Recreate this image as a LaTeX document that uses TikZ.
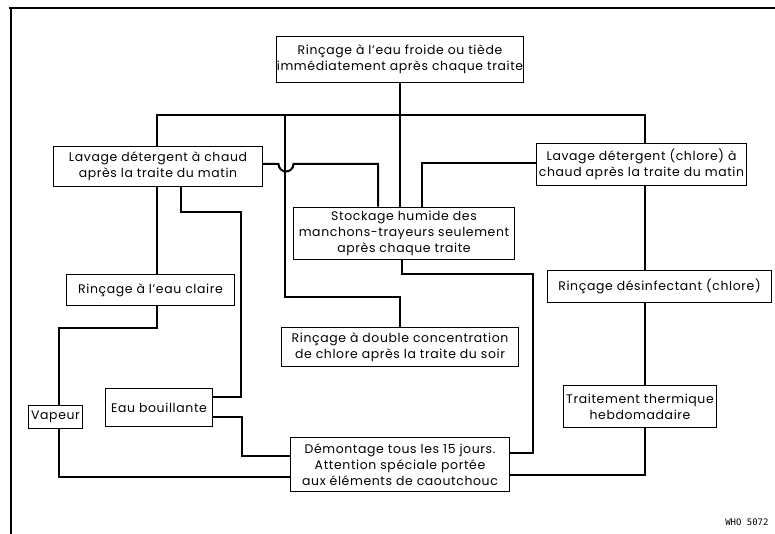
\documentclass[tikz,border=0pt]{standalone}
\usepackage{fontspec}
\setmainfont{Poppins}[LetterSpace=5]
\setmonofont{DejaVu Sans Mono}
\tikzset{every node/.style={font=\fontsize{12.5}{16}\selectfont},line cap=butt,line join=miter,
  box/.style={draw,line width=0.9bp,inner sep=0pt,align=center,fill=white},
  link/.style={line width=2bp}}

\begin{document}
\begin{tikzpicture}[x=1bp,y=-1bp]
  \path[use as bounding box] (0,0) rectangle (775,534);
  % frame (top and left only)
  \draw[line width=1.4bp] (9,8) -- (775,8);
  \draw[line width=1.8bp] (11,8) -- (11,534);

  % boxes
  \node[box,minimum width=248,minimum height=47] (froid) at (400,59.5)
    {Rinçage à l’eau froide ou tiède\\immédiatement après chaque traite};
  \node[box,minimum width=210,minimum height=41] (matin) at (158,166.5)
    {Lavage détergent à chaud\\après la traite du matin};
  \node[box,minimum width=211,minimum height=43] (chlore) at (641.5,164.5)
    {Lavage détergent (chlore) à\\chaud après la traite du matin};
  \node[box,minimum width=222,minimum height=53] (stock) at (404,233.5)
    {Stockage humide des\\manchons-trayeurs seulement\\après chaque traite};
  \node[box,minimum width=169,minimum height=32] (claire) at (150.5,290)
    {Rinçage à l’eau claire};
  \node[box,minimum width=237,minimum height=40] (double) at (400,347)
    {Rinçage à double concentration\\de chlore après la traite du soir};
  \node[box,minimum width=225,minimum height=33] (desinf) at (659.5,286.5)
    {Rinçage désinfectant (chlore)};
  \node[box,minimum width=55,minimum height=23] (vap) at (55.5,416.5) {Vapeur};
  \node[box,minimum width=108,minimum height=39] (eau) at (159,407.5) {Eau bouillante};
  \node[box,minimum width=220,minimum height=55] (demont) at (400,464.5)
    {Démontage tous les 15 jours.\\Attention spéciale portée\\aux éléments de caoutchouc};
  \node[box,minimum width=154,minimum height=43] (therm) at (640,406.5)
    {Traitement thermique\\hebdomadaire};
  \node[font=\ttfamily\fontsize{9}{10}\selectfont,anchor=east] (who) at (772,522) {WHO 5072};

  % junctions
  \coordinate (busL) at (157,115);
  \coordinate (busR) at (645,115);
  \coordinate (jA) at (285,115);
  \coordinate (kA) at (285,297);
  \coordinate (hop) at (278.5,164);
  \coordinate (sL) at (378,164);
  \coordinate (cL) at (422,163);
  \coordinate (mA) at (181,212);
  \coordinate (mB) at (241,397);
  \coordinate (eA) at (242,417);
  \coordinate (eB) at (242,456);
  \coordinate (rA) at (59,328);
  \coordinate (vB) at (59,477);
  \coordinate (sB) at (402,274);
  \coordinate (sC) at (533,453);
  \coordinate (tB) at (645,475);

  % connectors
  \draw[link] (matin.north -| busL) -- (busL) -- (busR) -- (chlore.north -| busR);
  \draw[link] (froid.south) -- (froid.south |- stock.north);
  \draw[link] (jA) -- (kA) -| (double.north);
  \draw[link] (matin.east |- hop) -- (hop) arc[start angle=180,end angle=0,radius=7.5] -- (sL) -- (sL |- stock.north);
  \draw[link] (chlore.west |- cL) -- (cL) -- (cL |- stock.north);
  \draw[link] (matin.south -| busL) -- (claire.north -| busL);
  \draw[link] (claire.south -| busL) |- (rA) -- (rA |- vap.north);
  \draw[link] (vap.south -| rA) -- (vB) -- (demont.west |- vB);
  \draw[link] (matin.south -| mA) -- (mA) -| (mB) -- (eau.east |- mB);
  \draw[link] (eau.east |- eA) -- (eA) -- (eB) -- (demont.west |- eB);
  \draw[link] (stock.south -| sB) -- (sB) -| (sC) -- (demont.east |- sC);
  \draw[link] (chlore.south -| busR) -- (desinf.north -| busR);
  \draw[link] (desinf.south -| busR) -- (therm.north -| busR);
  \draw[link] (therm.south -| tB) -- (tB) -- (demont.east |- tB);
\end{tikzpicture}
\end{document}
